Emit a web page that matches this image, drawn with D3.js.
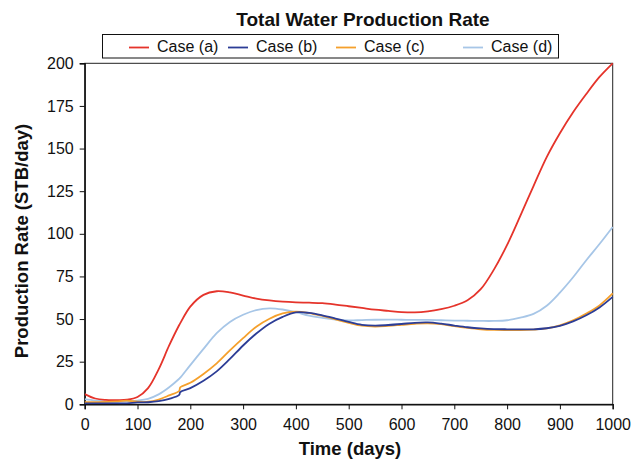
<!DOCTYPE html>
<html>
<head>
<meta charset="utf-8">
<script src="https://cdn.jsdelivr.net/npm/d3@7"></script>
<style>
  html, body { margin: 0; padding: 0; background: #fff; }
  svg { display: block; font-family: "Liberation Sans", Arial, Helvetica, sans-serif; }
</style>
</head>
<body>
<svg id="chart" width="644" height="459"></svg>
<script>
// Simulation output: total water production rate per case
const days = [0, 20, 40, 60, 80, 100, 120, 140, 160, 179, 181, 200, 225, 250, 275, 300, 325, 350, 375, 400,
  425, 450, 475, 500, 525, 550, 575, 600, 625, 650, 675, 700, 725, 750, 775, 800, 825, 850, 875, 900,
  925, 950, 975, 1000];

const caseA = [6, 3.4, 2.6, 2.5, 2.7, 4.3, 9.5, 20.5, 34.5, 46.5, 47.6, 57.3, 64.2, 66.3, 65.6, 63.8, 62, 60.9, 60.2, 59.8,
  59.6, 59.3, 58.5, 57.5, 56.5, 55.5, 54.8, 54.1, 53.9, 54.5, 55.8, 57.8, 61, 67.5, 79, 93.5, 110.5, 128, 145, 159,
  171.3, 182, 192, 200];

const caseB = [0.6, 0.5, 0.5, 0.5, 0.5, 1.1, 1.2, 1.8, 3.2, 5.5, 7.2, 9.5, 13.8, 19.3, 26.6, 34.5, 41.5, 47.3, 51.3, 53.9,
  53.6, 52.2, 50.3, 48.3, 46.6, 46.1, 46.5, 47.1, 47.8, 48, 47.3, 46.2, 45.2, 44.5, 44.1, 44, 44, 44, 44.6, 46,
  48.6, 52.2, 56.8, 63];

const caseC = [1.2, 1.3, 1.4, 1.7, 2.1, 1.5, 1.5, 2.8, 5.2, 7.8, 10, 12.6, 17.8, 24, 31.6, 38.8, 45.5, 50.2, 53.3, 54.3,
  53.5, 51.8, 49.8, 47.8, 46.1, 45.6, 46, 46.6, 47.2, 47.5, 47, 45.8, 44.8, 44, 43.6, 43.5, 43.5, 43.8, 44.5, 46.3,
  49.2, 53.2, 58, 65];

const caseD = [3, 2.2, 1.6, 1.5, 1.8, 2.2, 3.2, 5.8, 10, 15, 15.6, 23, 32.5, 41.7, 48.3, 52.5, 55.3, 56.3, 55.6, 54,
  52, 50.7, 49.7, 49.2, 49.4, 49.6, 49.7, 49.6, 49.5, 49.5, 49.3, 49.1, 49, 48.9, 48.9, 49.3, 50.8, 53, 57.8, 65.5,
  74.5, 84.5, 94, 104];

const seriesNames = ["Case (a)", "Case (b)", "Case (c)", "Case (d)"];
const seriesColors = ["#e5342b", "#2c3d96", "#f5a02c", "#a7c6e7"];
const xTicks = [0, 100, 200, 300, 400, 500, 600, 700, 800, 900, 1000];
const yTicks = [0, 25, 50, 75, 100, 125, 150, 175, 200];

const chartTitle = "Total Water Production Rate";
const xTitle = "Time (days)";
const yTitle = "Production Rate (STB/day)";

const svg = d3.select("#chart");
const margin = { left: 84.7, right: 644 - 612.7, top: 63.3, bottom: 459 - 404.3 };
const W = 644, H = 459;

const x = d3.scaleLinear().domain([0, 1000]).range([margin.left, W - margin.right]);
const y = d3.scaleLinear().domain([0, 200]).range([H - margin.bottom, margin.top]);

// plot frame
svg.append("rect")
  .attr("x", x(0)).attr("y", y(200))
  .attr("width", x(1000) - x(0)).attr("height", y(0) - y(200))
  .attr("fill", "none").attr("stroke", "#222").attr("stroke-width", 1);

// axes
const xAxis = svg.append("g")
  .attr("transform", `translate(0,${y(0)})`)
  .call(d3.axisBottom(x).tickValues(xTicks).tickSize(5).tickPadding(9).tickFormat(d3.format("d")));
const yAxis = svg.append("g")
  .attr("transform", `translate(${x(0)},0)`)
  .call(d3.axisLeft(y).tickValues(yTicks).tickSize(5).tickPadding(6).tickFormat(d3.format("d")));

[xAxis, yAxis].forEach(g => {
  g.select(".domain").attr("stroke", "#111").attr("stroke-width", 1.4);
  g.selectAll(".tick line").attr("stroke", "#111").attr("stroke-width", 1);
  g.selectAll(".tick text").attr("fill", "#111").style("font-size", "16px")
    .style("font-family", '"Liberation Sans", Arial, sans-serif');
});

// data lines, clipped to the plot frame
svg.append("clipPath").attr("id", "plot-clip")
  .append("rect")
  .attr("x", x(0)).attr("y", y(200) - 1)
  .attr("width", x(1000) - x(0) + 1).attr("height", y(0) - y(200) + 1);

const allSeries = [caseA, caseB, caseC, caseD];
const line = d3.line()
  .x((d, i) => x(days[i]))
  .y(d => y(d))
  .curve(d3.curveCatmullRom.alpha(0.5));

const lines = svg.append("g").attr("clip-path", "url(#plot-clip)");
const drawOrder = [3, 0, 2, 1];
drawOrder.forEach(k => {
  lines.append("path")
    .datum(allSeries[k])
    .attr("d", line)
    .attr("fill", "none")
    .attr("stroke", seriesColors[k])
    .attr("stroke-width", 1.8)
    .attr("stroke-linejoin", "round");
});

// title
svg.append("text")
  .attr("x", 363).attr("y", 26)
  .attr("text-anchor", "middle")
  .style("font-size", "19px").style("font-weight", "bold").attr("fill", "#111")
  .text(chartTitle);

// axis titles
svg.append("text")
  .attr("x", 350).attr("y", 455)
  .attr("text-anchor", "middle")
  .style("font-size", "18.5px").style("font-weight", "bold").attr("fill", "#111")
  .text(xTitle);

svg.append("text")
  .attr("transform", "translate(27.5,241) rotate(-90)")
  .attr("text-anchor", "middle")
  .style("font-size", "18.5px").style("font-weight", "bold").attr("fill", "#111")
  .text(yTitle);

// legend
const legend = svg.append("g");
legend.append("rect")
  .attr("x", 102.5).attr("y", 34.5).attr("width", 456).attr("height", 23.5)
  .attr("fill", "#fff").attr("stroke", "#111").attr("stroke-width", 1);

const legendX = [129, 228, 336, 463];
seriesNames.forEach((name, i) => {
  legend.append("line")
    .attr("x1", legendX[i]).attr("x2", legendX[i] + 20)
    .attr("y1", 47.5).attr("y2", 47.5)
    .attr("stroke", seriesColors[i]).attr("stroke-width", 1.8);
  legend.append("text")
    .attr("x", legendX[i] + 28).attr("y", 52)
    .style("font-size", "16px").attr("fill", "#111")
    .text(name);
});
</script>
</body>
</html>
